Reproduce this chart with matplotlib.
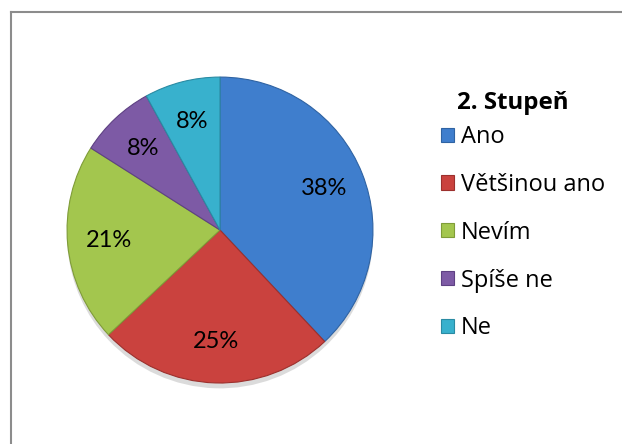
import matplotlib.pyplot as plt
from matplotlib.patches import Patch
from matplotlib.lines import Line2D

# Chart data
labels = ['Ano', 'Většinou ano', 'Nevím', 'Spíše ne', 'Ne']
values = [38, 25, 21, 8, 8]
colors = ['#3f7ecd', '#ca423e', '#a3c64e', '#7d5aa5', '#38b1cd']
edges = ['#2f63a3', '#9c302d', '#7f9c38', '#5e4183', '#2a8ba3']
title = '2. Stupeň'

plt.rcParams['font.family'] = ['Lato', 'DejaVu Sans']

fig = plt.figure(figsize=(6.22, 4.44), dpi=100)
fig.patch.set_facecolor('white')

# Pie axes
ax = fig.add_axes([0.1077, 0.1374, 0.492, 0.689])

# Soft shadow under the pie
shadow, _ = ax.pie(values, radius=1.0, startangle=90, counterclock=False,
                   colors=['#c4c4c4'] * len(values), center=(0.0, -0.035),
                   wedgeprops=dict(linewidth=0, alpha=0.6))
for s in shadow:
    s.set_clip_on(False)

wedges, texts, autotexts = ax.pie(
    values, startangle=90, counterclock=False, colors=colors,
    autopct=lambda p: '%d%%' % round(p), pctdistance=0.73,
    wedgeprops=dict(linewidth=0.8),
    textprops=dict(fontsize=17, color='black', family=['Lato', 'DejaVu Sans']))
for w, ec in zip(wedges, edges):
    w.set_edgecolor(ec)
    w.set_clip_on(False)

ax.set_xlim(-1, 1)
ax.set_ylim(-1, 1)
ax.set_aspect('equal')
ax.axis('off')

# Legend
handles = [Patch(facecolor=c, edgecolor=e, linewidth=0.8) for c, e in zip(colors, edges)]
leg = fig.legend(handles, labels, loc='upper left', bbox_to_anchor=(0.690, 0.745),
                 frameon=False, handlelength=0.55, handleheight=0.55,
                 handletextpad=0.3, labelspacing=1.01, borderpad=0,
                 prop=dict(family='Open Sans', size=17))
fig.text(457 / 622, 1 - 103 / 444, title, family='Open Sans', weight='bold',
         fontsize=17.3, ha='left', va='center')

# Chart border
fig.add_artist(Line2D([10.5 / 622, 10.5 / 622], [0, 1 - 12.5 / 444],
                      color='#8c8c8c', lw=1.5, transform=fig.transFigure))
fig.add_artist(Line2D([10.5 / 622, 1], [1 - 12.5 / 444, 1 - 12.5 / 444],
                      color='#8c8c8c', lw=1.5, transform=fig.transFigure))

fig.savefig('out.png', dpi=100)
